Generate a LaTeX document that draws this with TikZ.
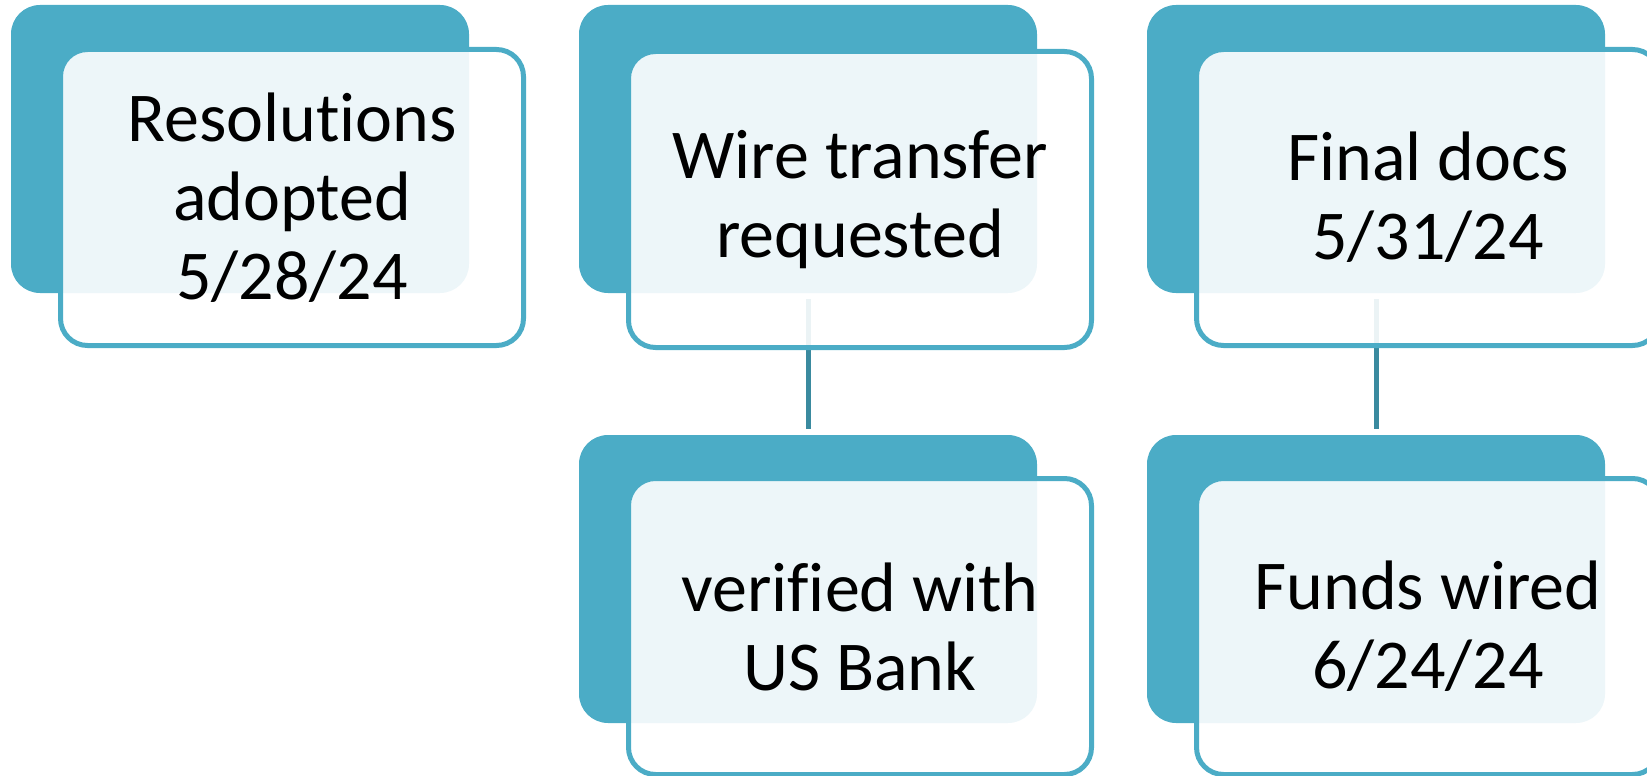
\documentclass[tikz,border=0pt]{standalone}
\usepackage{fontspec}
\setmainfont{Carlito}[Ligatures=NoCommon]
\usetikzlibrary{backgrounds}
\definecolor{tealfill}{RGB}{75,172,198}
\definecolor{linkteal}{RGB}{58,138,159}

\begin{document}
\begin{tikzpicture}[x=1pt,y=-1pt,
  backbox/.style={fill=tealfill, rounded corners=29pt, minimum width=458pt,
    minimum height=288pt, inner sep=0pt, outer sep=0pt},
  frontbox/.style={draw=tealfill, line width=5pt, fill=white, fill opacity=0.9,
    text opacity=1, rounded corners=27pt, minimum width=463pt,
    minimum height=296pt, inner sep=0pt, outer sep=0pt, align=center,
    font=\fontsize{70}{79}\selectfont},
  link/.style={draw=linkteal, line width=5pt, shorten <=6pt, shorten >=6pt}]

\useasboundingbox (0,0) rectangle (1647,776);

% top row
\node[backbox] (b1) at (240,149) {};
\node[frontbox] (f1) at (292,197.5) {Resolutions\\adopted\\5/28/24};

\node[backbox] (b2) at (808,149) {};
\node[frontbox] (f2) at (860,199.5) {Wire transfer\\requested};

\node[backbox] (b3) at (1376,149) {};
\node[frontbox] (f3) at (1428,197.5) {Final docs\\5/31/24};

% bottom row
\node[backbox] (b4) at (808,579) {};
\node[frontbox] (f4) at (860,626.5) {verified with\\US Bank};

\node[backbox] (b5) at (1376,579) {};
\node[frontbox] (f5) at (1428,626.5) {Funds wired\\6/24/24};

% links behind the boxes
\begin{pgfonlayer}{background}
  \draw[link] (b2.south) -- (b4.north);
  \draw[link] (b3.south) -- (b5.north);
\end{pgfonlayer}
\end{tikzpicture}
\end{document}
